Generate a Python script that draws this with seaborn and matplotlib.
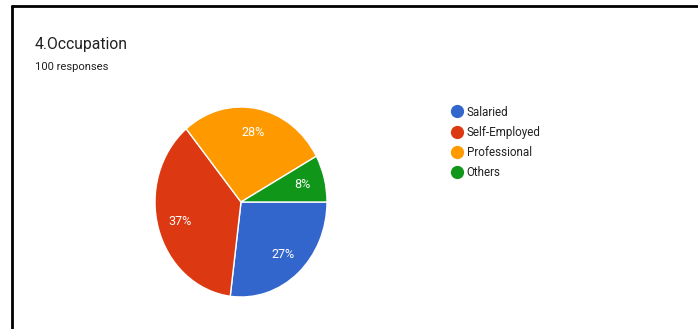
import matplotlib
matplotlib.use("Agg")
import matplotlib.pyplot as plt
from matplotlib.lines import Line2D
import seaborn as sns

categories = ["Salaried", "Self-Employed", "Professional", "Others"]
values = [27, 37, 28, 8]
colors = ["#3366cc", "#dc3912", "#ff9900", "#109618"]
title = "4.Occupation"
subtitle = "100 responses"

sns.set_theme(style="white")
plt.rcParams["font.family"] = ["Roboto", "DejaVu Sans"]

W, H = 698, 329
fig = plt.figure(figsize=(W / 100, H / 100), dpi=100)
fig.patch.set_facecolor("white")

# pie axes (slightly taller than wide, as in the reference)
cx, cy, rx, ry = 241, 202, 86, 95
ax = fig.add_axes([(cx - rx) / W, 1 - (cy + ry) / H, 2 * rx / W, 2 * ry / H])
wedges, texts, autotexts = ax.pie(
    values, colors=colors, startangle=0, counterclock=False,
    autopct="%d%%", pctdistance=0.74,
    wedgeprops=dict(edgecolor="white", linewidth=1.0),
    textprops=dict(color="white", fontsize=9),
)
ax.set_aspect("auto")
ax.set_xlim(-1, 1)
ax.set_ylim(-1, 1)
ax.axis("off")

fig.text(35 / W, 1 - 45 / H, title, fontsize=11.3, color="#212121", va="center", ha="left")
fig.text(35 / W, 1 - 67 / H, subtitle, fontsize=8.1, color="#212121", va="center", ha="left")

handles = [Line2D([0], [0], marker="o", linestyle="none", markersize=8.5,
                  markerfacecolor=c, markeredgecolor=c) for c in colors]
fig.legend(handles, categories, loc="upper left",
           bbox_to_anchor=(452 / W, 1 - 105.5 / H), frameon=False,
           fontsize=8.4, handlelength=0.8, handletextpad=0.45,
           labelspacing=0.62, borderpad=0, borderaxespad=0, labelcolor="#222222")

# frame lines (top and left) as in the screenshot
fig.add_artist(Line2D([12 / W, 1], [1 - 5.5 / H, 1 - 5.5 / H], color="black", linewidth=2, transform=fig.transFigure))
fig.add_artist(Line2D([12 / W, 12 / W], [0, 1 - 5.5 / H], color="black", linewidth=2, transform=fig.transFigure))

fig.savefig("out.png", dpi=100, facecolor="white")
